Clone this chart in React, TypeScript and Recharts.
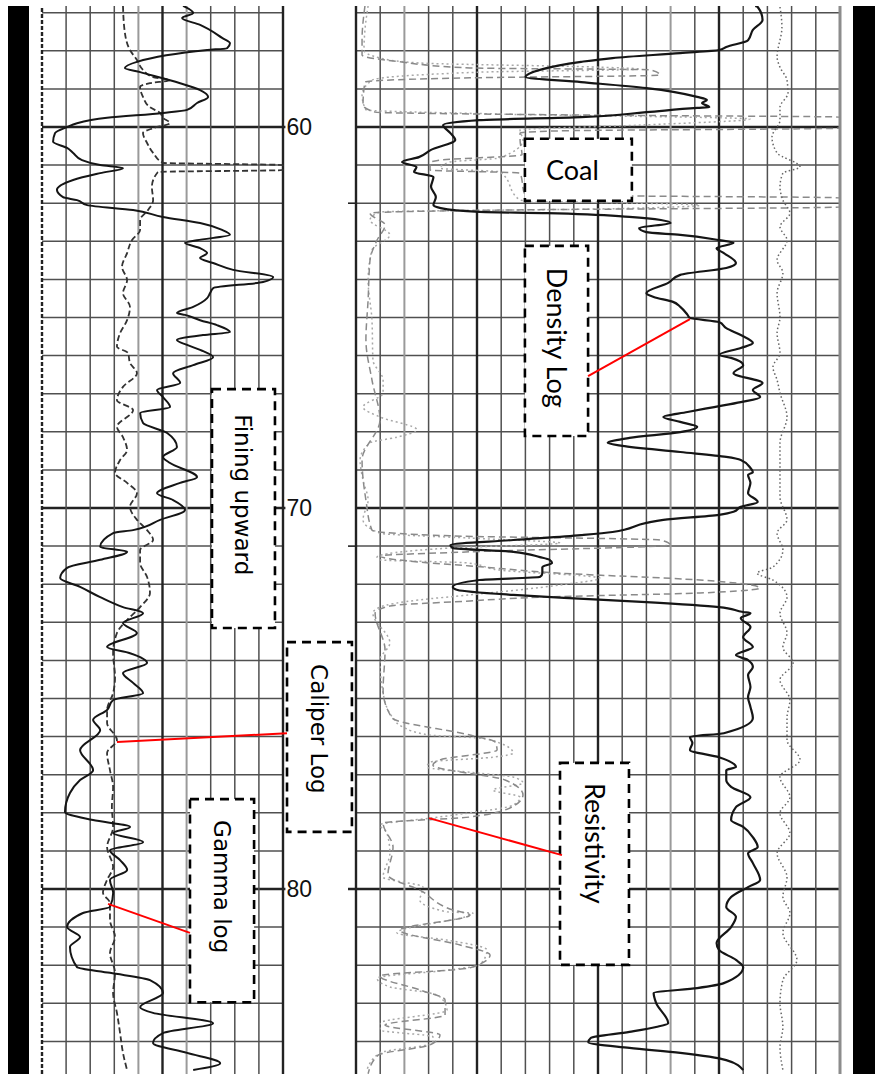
import React from 'react'
import { ComposedChart, Line, XAxis, YAxis, ReferenceLine, ReferenceArea } from 'recharts'

const W = 875
const H = 1074

// depth window (m) shown from top to bottom of the log
const DEPTH_TOP = 56.824
const DEPTH_BOTTOM = 84.855
const SIDE_TICKS = [62, 71]

// every track axis is stretched over the whole plot (x 42..840) so both tracks share one chart
const GR_DOMAIN = [0, 496.68] // gamma ray, 0-150 API across left track
const CAL_DOMAIN = [6, 39.112] // caliper, 6-16 in across left track
const RHOB_DOMAIN = [-0.2975, 3] // density, 1-3 g/cc across right track
const RES_DOMAIN = [-129.75, 200] // resistivity, 0-200 ohm.m across right track

// [depth, API]
const GAMMA = [
  [56.82, 87.8], [57.01, 94.1], [57.14, 87.2], [57.32, 98.4], [57.66, 112.1], [57.8, 117.0], [57.93, 115.2],
  [57.98, 102.8], [58.29, 59.1], [58.45, 51.6], [58.56, 61.1], [58.85, 86.0], [59.03, 98.4], [59.21, 103.4],
  [59.37, 96.5], [59.55, 90.3], [59.63, 75.3], [59.76, 40.5], [59.9, 21.8], [60.0, 15.6], [60.16, 8.1],
  [60.39, 6.9], [60.55, 15.6], [60.68, 19.4], [60.87, 24.9], [61.0, 36.2], [61.08, 50.4], [61.21, 36.2],
  [61.39, 19.4], [61.65, 9.3], [61.84, 13.1], [61.92, 21.8], [62.05, 28.1], [62.18, 56.7], [62.36, 75.3],
  [62.52, 98.4], [62.7, 112.1], [62.83, 117.0], [62.97, 96.5], [63.04, 89.0], [63.18, 98.4], [63.31, 102.8],
  [63.44, 98.4], [63.57, 106.5], [63.75, 119.0], [63.94, 143.9], [64.07, 137.6], [64.23, 106.5], [64.36, 104.6],
  [64.49, 102.8], [64.72, 94.1], [64.88, 84.0], [64.93, 89.0], [65.07, 98.4], [65.2, 108.9], [65.38, 117.0],
  [65.46, 100.2], [65.59, 84.0], [65.72, 90.3], [65.85, 98.4], [66.04, 106.5], [66.25, 94.1], [66.46, 81.6],
  [66.72, 86.0], [66.9, 71.6], [67.09, 75.3], [67.35, 79.7], [67.51, 61.1], [67.77, 62.9], [68.03, 77.9],
  [68.4, 84.0], [68.66, 75.3], [68.82, 79.7], [69.19, 96.5], [69.34, 86.0], [69.61, 71.6], [69.79, 81.6],
  [70.05, 89.0], [70.31, 73.5], [70.58, 56.7], [70.66, 44.3], [71.02, 36.2], [71.15, 53.0], [71.36, 36.2],
  [71.57, 15.6], [71.84, 11.3], [72.07, 23.7], [72.34, 36.2], [72.6, 50.4], [72.76, 62.9], [73.02, 50.4],
  [73.28, 59.1], [73.65, 40.5], [73.81, 54.8], [74.07, 65.4], [74.33, 50.4], [74.59, 56.7], [74.86, 62.9],
  [75.04, 44.3], [75.3, 40.5], [75.56, 31.8], [75.83, 36.2], [76.35, 23.7], [76.88, 31.8], [77.14, 23.7],
  [77.48, 17.4], [77.98, 14.3], [78.19, 31.8], [78.37, 54.8], [78.53, 44.3], [78.77, 62.9], [78.98, 42.3],
  [79.24, 48.6], [79.5, 53.0], [79.76, 42.3], [80.1, 44.3], [80.47, 42.3], [80.63, 25.5], [81.0, 15.6],
  [81.26, 23.7], [81.52, 17.4], [82.05, 21.8], [82.2, 42.3], [82.39, 67.2], [82.73, 75.3], [83.1, 61.1],
  [83.25, 69.1], [83.52, 106.5], [83.78, 75.3], [84.04, 69.1], [84.3, 90.3], [84.57, 110.9], [84.75, 94.1],
]

// [depth, inches]
const CALIPER = [
  [56.82, 9.36], [57.53, 9.44], [57.98, 9.65], [58.24, 9.94], [58.5, 10.19], [58.69, 10.61], [58.77, 11.31],
  [58.85, 10.48], [58.95, 10.07], [59.21, 10.19], [59.48, 10.48], [59.63, 10.9], [59.76, 11.02], [59.9, 11.31],
  [60.03, 10.61], [60.16, 10.19], [60.42, 10.36], [60.68, 10.61], [60.94, 11.02], [61.0, 16.0], [61.13, 16.0],
  [61.18, 10.81], [61.57, 10.56], [61.92, 10.61], [62.18, 10.4], [62.44, 10.07], [62.7, 10.07], [62.97, 9.73],
  [63.31, 9.53], [63.67, 9.32], [64.02, 9.53], [64.36, 9.36], [64.72, 9.65], [65.07, 9.53], [65.41, 9.24],
  [65.77, 9.11], [65.93, 9.57], [66.19, 9.65], [66.46, 9.94], [66.82, 9.36], [67.17, 9.11], [67.43, 9.78],
  [67.87, 9.11], [68.14, 9.36], [68.48, 9.53], [68.74, 9.24], [69.08, 9.03], [69.34, 9.53], [69.61, 9.94],
  [69.97, 9.65], [70.31, 9.94], [70.58, 10.36], [70.84, 10.61], [71.1, 10.07], [71.44, 10.07], [71.81, 10.36],
  [72.23, 10.48], [72.6, 10.07], [72.94, 9.53], [73.28, 9.11], [73.81, 8.95], [74.44, 9.03], [74.86, 8.95],
  [75.3, 8.7], [75.64, 8.7], [76.09, 9.11], [76.43, 8.7], [76.88, 8.82], [77.32, 8.95], [77.85, 8.9],
  [78.37, 8.95], [78.9, 8.7], [79.42, 8.95], [79.76, 8.7], [80.1, 8.53], [80.37, 8.82], [80.81, 8.82],
  [81.26, 9.03], [81.68, 8.82], [82.2, 9.03], [82.73, 8.95], [83.25, 9.11], [83.78, 9.24], [84.3, 9.36],
  [84.75, 9.53],
]

// [depth, g/cc]
const DENSITY = [
  [56.82, 2.65], [56.85, 2.66], [57.19, 2.68], [57.45, 2.64], [57.72, 2.62], [57.9, 2.53], [57.98, 2.5],
  [58.06, 2.34], [58.19, 2.06], [58.29, 1.93], [58.5, 1.76], [58.69, 1.7], [58.82, 1.93], [58.98, 2.2],
  [59.21, 2.41], [59.29, 2.45], [59.37, 2.43], [59.48, 2.46], [59.5, 2.41], [59.61, 2.2], [59.74, 1.93],
  [59.82, 1.51], [59.95, 1.36], [60.16, 1.39], [60.34, 1.41], [60.6, 1.31], [60.79, 1.26], [60.92, 1.19],
  [61.05, 1.25], [61.18, 1.24], [61.31, 1.32], [61.57, 1.31], [61.84, 1.33], [62.05, 1.32], [62.13, 1.35],
  [62.23, 1.51], [62.26, 1.79], [62.36, 2.13], [62.44, 2.26], [62.52, 2.3], [62.65, 2.17], [62.76, 2.2],
  [62.83, 2.34], [62.97, 2.5], [63.04, 2.56], [63.18, 2.49], [63.31, 2.52], [63.57, 2.57], [63.7, 2.53],
  [63.88, 2.34], [64.09, 2.29], [64.36, 2.2], [64.46, 2.23], [64.59, 2.31], [64.72, 2.34], [64.93, 2.37],
  [65.01, 2.38], [65.12, 2.5], [65.28, 2.53], [65.46, 2.59], [65.67, 2.64], [65.8, 2.59], [65.98, 2.5],
  [66.06, 2.55], [66.25, 2.6], [66.46, 2.56], [66.72, 2.68], [66.9, 2.64], [67.09, 2.67], [67.22, 2.59],
  [67.35, 2.48], [67.48, 2.37], [67.61, 2.27], [67.74, 2.34], [67.87, 2.41], [68.01, 2.34], [68.16, 2.13],
  [68.29, 2.04], [68.37, 2.1], [68.53, 2.34], [68.66, 2.53], [68.74, 2.59], [68.95, 2.63], [69.06, 2.64],
  [69.13, 2.62], [69.34, 2.63], [69.61, 2.62], [69.84, 2.66], [69.97, 2.59], [70.1, 2.56], [70.18, 2.5],
  [70.31, 2.27], [70.39, 2.2], [70.63, 2.06], [70.71, 1.93], [70.84, 1.65], [70.97, 1.39], [71.05, 1.4],
  [71.15, 1.65], [71.29, 1.76], [71.36, 1.8], [71.44, 1.81], [71.55, 1.77], [71.71, 1.77], [71.81, 1.76],
  [71.89, 1.51], [72.07, 1.4], [72.15, 1.42], [72.28, 1.65], [72.36, 1.86], [72.47, 2.2], [72.6, 2.5],
  [72.73, 2.6], [72.76, 2.63], [72.89, 2.59], [73.12, 2.63], [73.39, 2.6], [73.65, 2.64], [73.86, 2.57],
  [73.99, 2.62], [74.17, 2.64], [74.38, 2.62], [74.7, 2.63], [74.96, 2.62], [75.22, 2.63], [75.51, 2.64],
  [75.91, 2.52], [76.01, 2.38], [76.17, 2.39], [76.35, 2.38], [76.54, 2.5], [76.8, 2.57], [76.88, 2.53],
  [77.14, 2.53], [77.32, 2.55], [77.59, 2.63], [77.85, 2.57], [78.19, 2.55], [78.37, 2.6], [78.64, 2.64],
  [78.9, 2.66], [79.06, 2.62], [79.32, 2.64], [79.76, 2.67], [79.95, 2.62], [80.21, 2.55], [80.47, 2.53],
  [80.73, 2.57], [81.0, 2.55], [81.42, 2.49], [81.6, 2.5], [81.86, 2.57], [82.05, 2.6], [82.47, 2.52],
  [82.6, 2.41], [82.73, 2.23], [82.99, 2.24], [83.52, 2.29], [83.62, 2.24], [83.75, 2.13], [83.91, 1.97],
  [84.02, 1.96], [84.17, 2.13], [84.3, 2.34], [84.49, 2.53], [84.75, 2.6],
]

// [depth, ohm.m] deep reading, pegs off scale in the coals
const RES_DEEP = [
  [56.82, 3.7], [57.72, 2.5], [58.11, 2.5], [58.29, 18.2], [58.45, 47.1], [58.5, 121.5], [58.64, 125.6],
  [58.71, 47.1], [58.82, 3.7], [59.42, 2.9], [59.61, 7.9], [59.69, 100.8], [59.74, 200], [60.03, 200],
  [60.1, 84.3], [60.16, 67.8], [60.34, 67.8], [60.73, 68.6], [60.87, 34.7], [60.94, 30.6], [61.13, 30.6],
  [61.21, 67.8], [61.78, 69.8], [61.86, 200], [62.1, 200], [62.18, 59.5], [62.26, 5.8], [62.57, 12.0],
  [62.97, 8.7], [63.49, 5.8], [64.54, 5.0], [65.59, 4.1], [66.64, 6.6], [67.69, 9.9], [68.74, 2.5],
  [69.79, 4.1], [70.58, 6.6], [70.73, 38.8], [70.84, 125.6], [70.97, 129.8], [71.15, 47.1], [71.26, 9.9],
  [71.42, 26.4], [71.52, 47.1], [71.71, 84.3], [71.89, 142.1], [72.1, 166.9], [72.23, 142.1], [72.34, 76.0],
  [72.44, 47.1], [72.57, 14.0], [72.76, 7.9], [73.73, 12.0], [74.78, 11.2], [75.51, 14.9], [75.96, 47.1],
  [76.14, 57.4], [76.35, 58.3], [76.61, 34.7], [76.75, 31.8], [77.14, 61.6], [77.53, 69.0], [77.8, 65.7],
  [78.11, 47.1], [78.27, 11.2], [78.9, 15.3], [79.63, 13.2], [80.03, 26.4], [80.55, 40.1], [80.68, 47.1],
  [81.08, 18.2], [81.47, 43.0], [81.73, 55.4], [82.07, 47.1], [82.28, 9.9], [82.65, 26.4], [82.91, 36.8],
  [83.31, 36.8], [83.57, 12.0], [83.83, 34.7], [84.09, 30.6], [84.36, 9.1], [84.85, 5.0],
]

// [depth, ohm.m] shallow reading
const RES_SHALLOW = [
  [56.82, 5.0], [57.45, 3.7], [57.98, 3.3], [58.19, 9.9], [58.32, 26.4], [58.43, 100.8], [58.48, 117.4],
  [58.56, 51.2], [58.77, 6.6], [59.16, 2.5], [59.55, 4.1], [59.66, 59.5], [59.79, 162.8], [59.95, 117.4],
  [60.08, 67.8], [60.34, 69.0], [60.81, 59.5], [60.92, 38.8], [61.08, 34.7], [61.18, 59.5], [61.92, 67.8],
  [62.05, 142.1], [62.15, 100.8], [62.23, 9.9], [62.44, 5.8], [62.83, 14.0], [63.23, 6.6], [64.02, 5.0],
  [65.07, 6.6], [66.12, 7.0], [66.64, 11.2], [66.98, 11.2], [67.35, 2.9], [67.61, 9.9], [67.95, 25.2],
  [68.14, 16.9], [68.29, 5.8], [68.74, 1.7], [69.27, 2.9], [69.79, 5.0], [70.31, 2.9], [70.66, 9.9],
  [70.79, 47.1], [70.92, 84.3], [71.05, 38.8], [71.29, 8.7], [71.36, 9.9], [71.44, 45.9], [71.63, 59.5],
  [71.84, 100.8], [72.02, 84.3], [72.28, 47.1], [72.41, 26.4], [72.6, 9.9], [72.76, 7.0], [73.54, 14.0],
  [73.99, 9.9], [74.86, 11.2], [75.51, 15.3], [75.75, 19.4], [75.96, 30.6], [76.04, 51.2], [76.17, 59.5],
  [76.43, 64.9], [76.54, 56.6], [76.67, 30.6], [76.8, 29.3], [76.96, 51.2], [77.06, 64.9], [77.22, 69.0],
  [77.4, 56.6], [77.59, 67.8], [77.8, 64.9], [78.01, 45.9], [78.14, 30.6], [78.32, 9.9], [78.53, 12.8],
  [79.06, 14.0], [79.69, 11.2], [79.95, 27.7], [80.29, 26.4], [80.6, 37.6], [80.63, 48.3], [81.15, 16.9],
  [81.34, 37.6], [81.6, 54.1], [81.99, 51.2], [82.13, 37.6], [82.34, 8.7], [82.57, 14.0], [82.73, 30.6],
  [82.83, 34.7], [83.18, 37.6], [83.52, 9.9], [83.7, 9.9], [83.88, 31.8], [84.04, 31.8], [84.3, 9.9],
  [84.75, 4.5],
]

// [depth, ohm.m scale] dotted trace near right edge of track 2
const MICRO = [
  [56.85, 175.2], [57.38, 176.0], [58.16, 174.0], [58.43, 175.2], [58.77, 178.1], [59.11, 178.5], [59.48, 175.2],
  [59.82, 175.2], [60.26, 171.9], [60.68, 174.0], [61.05, 183.5], [61.21, 176.4], [61.57, 175.2], [61.92, 176.4],
  [62.26, 179.3], [62.62, 175.2], [62.97, 178.1], [63.49, 174.0], [63.83, 176.4], [64.36, 174.0], [64.99, 175.2],
  [65.41, 174.0], [65.93, 175.2], [66.3, 172.3], [66.64, 174.0], [66.98, 175.2], [67.61, 178.1], [68.29, 175.2],
  [69.0, 175.2], [69.71, 175.2], [70.31, 178.1], [70.66, 174.0], [71.1, 176.4], [71.55, 172.3], [71.71, 165.7],
  [71.89, 172.3], [72.34, 178.1], [72.76, 175.2], [73.28, 178.1], [73.65, 176.4], [74.07, 180.6], [74.51, 175.2],
  [75.04, 179.3], [75.51, 178.1], [76.09, 178.1], [76.61, 183.5], [77.06, 175.2], [77.59, 179.3], [78.01, 175.2],
  [78.53, 179.3], [79.06, 174.0], [79.69, 178.1], [80.21, 176.4], [80.63, 179.3], [81.15, 176.4], [81.86, 182.2],
  [82.39, 176.4], [82.99, 175.2], [83.62, 176.4], [84.15, 175.2], [84.75, 176.4],
]

const DEJAVU = '"DejaVu Sans", Verdana, sans-serif'
const LATO = 'Lato, Calibri, sans-serif'

// annotation boxes, x range in the track's own units, y range in depth
const BOXES = [
  { text: 'Fining upward', axis: 'gr', x: [105.8, 145.0], y: [66.88, 73.15], vertical: true, font: DEJAVU, size: 23, pad: 25 },
  { text: 'Caliper Log', axis: 'gr', x: [152.5, 192.9], y: [73.52, 78.5], vertical: true, font: DEJAVU, size: 23, pad: 22 },
  { text: 'Gamma log', axis: 'gr', x: [92.1, 132.0], y: [77.64, 82.97], vertical: true, font: DEJAVU, size: 23, pad: 21 },
  { text: 'Coal', axis: 'res', x: [69.8, 114.0], y: [60.31, 61.94], vertical: false, font: LATO, size: 27, pad: 0 },
  { text: 'Density Log', axis: 'res', x: [69.8, 95.9], y: [63.12, 68.11], vertical: true, font: LATO, size: 27, pad: 22 },
  { text: 'Resistivity', axis: 'res', x: [84.3, 112.8], y: [76.69, 81.99], vertical: true, font: LATO, size: 27, pad: 20 },
]

const POINTERS = [
  { axis: 'res', from: [95.9, 66.54], to: [138.0, 65.04] },
  { axis: 'gr', from: [152.5, 75.91], to: [46.7, 76.14] },
  { axis: 'gr', from: [92.1, 81.15], to: [41.1, 80.39] },
  { axis: 'res', from: [85.1, 79.11], to: [30.2, 78.14] },
]

const rows = (pts: number[][]) => pts.map(([depth, v]) => ({ depth, v }))

const leftVerticals = Array.from({ length: 11 }, (_, i) => i * 15)
const rightVerticals = Array.from({ length: 21 }, (_, i) => i * 10)
const depthLines = Array.from({ length: 28 }, (_, i) => 57 + i)

const GRID = '#505050'
const HEAVY = '#222'

const boxShape = (b: any) => (p: any) => {
  const { x, y, width, height } = p
  const cap = b.size * 0.72
  let label
  if (b.vertical) {
    const tx = x + width / 2 - cap / 2
    const ty = y + b.pad
    label = (
      <text x={tx} y={ty} transform={`rotate(90 ${tx} ${ty})`} fontFamily={b.font} fontSize={b.size} fill="#000">
        {b.text}
      </text>
    )
  } else {
    label = (
      <text x={x + width / 2 - 6} y={y + height / 2 + cap / 2} textAnchor="middle" fontFamily={b.font} fontSize={b.size} fill="#000">
        {b.text}
      </text>
    )
  }
  return (
    <g>
      <rect x={x} y={y} width={width} height={height} fill="#fff" stroke="#000" strokeWidth={2.6} strokeDasharray="9 6" />
      {label}
    </g>
  )
}

export default function App() {
  return (
    <div style={{ position: 'absolute', left: 0, top: 0, width: W, height: H, background: '#fff', overflow: 'hidden' }}>
      <div style={{ position: 'absolute', left: 8, top: 6, width: 21, height: H - 6, background: '#000' }} />
      <div style={{ position: 'absolute', left: 853, top: 6, width: 22, height: H - 6, background: '#000' }} />
      <ComposedChart
        layout="vertical"
        width={W}
        height={H}
        margin={{ top: 6, right: 35, bottom: 0, left: 42 }}
        style={{ position: 'absolute', left: 0, top: 0 }}
      >
        <XAxis xAxisId="gr" type="number" domain={GR_DOMAIN} hide allowDataOverflow />
        <XAxis xAxisId="cal" type="number" domain={CAL_DOMAIN} hide allowDataOverflow />
        <XAxis xAxisId="rhob" type="number" domain={RHOB_DOMAIN} hide allowDataOverflow />
        <XAxis xAxisId="res" type="number" domain={RES_DOMAIN} hide allowDataOverflow />
        <YAxis type="number" dataKey="depth" domain={[DEPTH_TOP, DEPTH_BOTTOM]} hide allowDataOverflow />

        {/* track grids */}
        {depthLines.map((d) => (
          <ReferenceLine
            key={`lh${d}`}
            xAxisId="gr"
            segment={[{ x: 0, y: d }, { x: d % 10 === 0 ? 151.5 : 150, y: d }]}
            stroke={d % 10 === 0 ? HEAVY : GRID}
            strokeWidth={d % 10 === 0 ? 2.4 : 1.5}
            zIndex={-100}
            label={
              d % 10 === 0
                ? { value: String(d), position: 'right', offset: 1, fill: '#111', fontSize: 23, fontFamily: '"Liberation Sans", Arial, sans-serif' }
                : undefined
            }
          />
        ))}
        {depthLines.map((d) => (
          <ReferenceLine
            key={`rh${d}`}
            xAxisId="res"
            segment={[{ x: d === 80 ? -3.3 : 0, y: d }, { x: 200, y: d }]}
            stroke={d % 10 === 0 ? HEAVY : GRID}
            strokeWidth={d % 10 === 0 ? 2.4 : 1.5}
            zIndex={-100}
          />
        ))}
        {SIDE_TICKS.map((d) => (
          <ReferenceLine key={`tk${d}`} xAxisId="res" segment={[{ x: -3.3, y: d }, { x: 0, y: d }]} stroke={HEAVY} strokeWidth={1.6} zIndex={-100} />
        ))}
        {leftVerticals.map((v) => (
          <ReferenceLine
            key={`lv${v}`}
            xAxisId="gr"
            x={v}
            stroke={v === 0 ? '#222' : v % 75 === 0 ? HEAVY : v === 60 || v === 90 ? '#9a9a9a' : GRID}
            strokeWidth={v === 0 ? 2.4 : v % 75 === 0 ? 2.4 : v === 60 || v === 90 ? 2 : 1.5}
            strokeDasharray={v === 0 ? '4 2' : undefined}
            zIndex={-100}
          />
        ))}
        {rightVerticals.map((v) => (
          <ReferenceLine
            key={`rv${v}`}
            xAxisId="res"
            x={v}
            stroke={v === 200 ? '#8c8c8c' : v % 50 === 0 ? HEAVY : v === 20 || v === 130 ? '#9a9a9a' : GRID}
            strokeWidth={v === 200 ? 3 : v % 50 === 0 ? 2.4 : v === 20 || v === 130 ? 2 : 1.5}
            zIndex={-100}
          />
        ))}

        {/* track 1 */}
        <Line data={rows(CALIPER)} dataKey="v" xAxisId="cal" type="monotone" stroke="#333" strokeWidth={1.8} strokeDasharray="6 3" dot={false} isAnimationActive={false} />
        <Line data={rows(GAMMA)} dataKey="v" xAxisId="gr" type="monotone" stroke="#151515" strokeWidth={2} dot={false} isAnimationActive={false} />

        {/* track 2 */}
        <Line data={rows(RES_SHALLOW)} dataKey="v" xAxisId="res" type="monotone" stroke="#a8a8a8" strokeWidth={1.5} strokeDasharray="2 3" dot={false} isAnimationActive={false} />
        <Line data={rows(RES_DEEP)} dataKey="v" xAxisId="res" type="monotone" stroke="#8a8a8a" strokeWidth={1.5} strokeDasharray="7 4" dot={false} isAnimationActive={false} />
        <Line data={rows(MICRO)} dataKey="v" xAxisId="res" type="monotone" stroke="#666" strokeWidth={1.5} strokeDasharray="1.5 2.5" dot={false} isAnimationActive={false} />
        <Line data={rows(DENSITY)} dataKey="v" xAxisId="rhob" type="monotone" stroke="#151515" strokeWidth={2.2} dot={false} isAnimationActive={false} />

        {/* annotations */}
        {BOXES.map((b) => (
          <ReferenceArea
            key={b.text}
            xAxisId={b.axis}
            x1={b.x[0]}
            x2={b.x[1]}
            y1={b.y[0]}
            y2={b.y[1]}
            ifOverflow="visible"
            zIndex={1500}
            shape={boxShape(b)}
          />
        ))}
        {POINTERS.map((p, i) => (
          <ReferenceLine
            key={`ptr${i}`}
            xAxisId={p.axis}
            segment={[{ x: p.from[0], y: p.from[1] }, { x: p.to[0], y: p.to[1] }]}
            stroke="#ff0000"
            strokeWidth={2}
            ifOverflow="visible"
            zIndex={1600}
          />
        ))}
      </ComposedChart>
    </div>
  )
}
